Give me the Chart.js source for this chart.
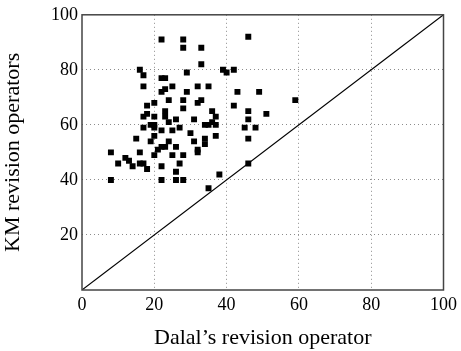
<!DOCTYPE html>
<html>
<head>
<meta charset="utf-8">
<script src="https://cdn.jsdelivr.net/npm/chart.js@4/dist/chart.umd.min.js"></script>
<style>
html,body{margin:0;padding:0;background:#fff;}
#wrap{width:461px;height:351px;position:relative;}
</style>
</head>
<body>
<div id="wrap"><canvas id="c" width="461" height="351"></canvas></div>
<script>
// Dalal's revision operator (x) vs KM revision operators (y)
const dalal = [22,28,28,33,33,46,
  16,17,22,23,29,39,40,42,
  17,22,23,25,29,32,35,43,49,
  20,24,28,28,32,33,42,59,
  18,18,17,20,23,23,36,37,46,51,
  24,26,31,36,46,
  19,20,34,35,37,
  17,20,22,25,27,45,48,
  15,19,20,24,30,31,34,34,37,46,
  8,16,21,22,23,26,32,32,
  20,25,28,12,13,10,16,17,14,18,22,27,46,
  26,38,8,22,26,28,35];
const km = [91,91,88,88,82,92,
  80,78,77,77,79,80,79,80,
  74,72,73,74,72,74,74,72,72,
  68,69,69,66,68,69,67,69,
  67,64,63,63,65,63,65,63,65,64,
  61,62,62,61,62,
  60,60,60,60,60,
  59,59,58,58,59,59,59,
  55,54,56,54,57,54,55,53,56,55,
  50,50,51,52,52,52,51,50,
  49,49,49,48,47,46,46,46,45,44,45,46,46,
  43,42,40,40,40,40,37];
const diagX = [0,100];
const diagY = [0,100];
const xTicks = [0,20,40,60,80,100];
const yTicks = [20,40,60,80,100];
const xTitle = "Dalal\u2019s revision operator";
const yTitle = "KM revision operators";

const serif = "'Liberation Serif','DejaVu Serif',serif";
const pts = dalal.map((v,i)=>({x:v,y:km[i]}));
const diag = diagX.map((v,i)=>({x:v,y:diagY[i]}));

const edgeless = (ctx)=> (ctx.tick && (ctx.tick.value===0||ctx.tick.value===100))?'rgba(0,0,0,0)':'#8c8c8c';

// solid frame on top of dotted grid
const framePlugin = {
  id:'frame',
  afterDraw(chart){
    const a = chart.chartArea, c = chart.ctx;
    c.save(); c.strokeStyle='#444'; c.lineWidth=1.5; c.setLineDash([]);
    c.strokeRect(a.left, a.top, a.right-a.left, a.bottom-a.top);
    c.restore();
  }
};

new Chart(document.getElementById('c'), {
  type: 'scatter',
  data: {
    datasets: [
      {data: pts, pointStyle:'rect', pointRadius:4.2, pointHoverRadius:4.2,
       backgroundColor:'#000', borderWidth:0, showLine:false, order:1},
      {data: diag, showLine:true, borderColor:'#000', borderWidth:1.1,
       pointRadius:0, fill:false, order:2}
    ]
  },
  plugins:[framePlugin],
  options: {
    responsive:false, animation:false, devicePixelRatio:1,
    layout:{padding:{top:10,right:16,left:0,bottom:0}},
    plugins:{legend:{display:false}, tooltip:{enabled:false}},
    scales:{
      x:{type:'linear', position:'bottom', min:0, max:100,
        afterBuildTicks:(s)=>{s.ticks = xTicks.map(v=>({value:v}));},
        afterFit:(s)=>{s.height=61;},
        ticks:{font:{family:serif,size:18}, color:'#000', padding:4, maxRotation:0},
        grid:{color:edgeless, lineWidth:1, drawTicks:false},
        border:{display:false, dash:[1,3]},
        title:{display:true, text:xTitle, font:{family:serif,size:22}, color:'#000', padding:{top:4,bottom:0}}
      },
      y:{type:'linear', position:'left', min:0, max:100,
        afterBuildTicks:(s)=>{s.ticks = yTicks.map(v=>({value:v}));},
        afterFit:(s)=>{s.width=82;},
        ticks:{font:{family:serif,size:18}, color:'#000', padding:4},
        grid:{color:edgeless, lineWidth:1, drawTicks:false},
        border:{display:false, dash:[1,3]},
        title:{display:true, text:yTitle, font:{family:serif,size:22}, color:'#000', padding:{top:0,bottom:8}}
      }
    }
  }
});
</script>
</body>
</html>
